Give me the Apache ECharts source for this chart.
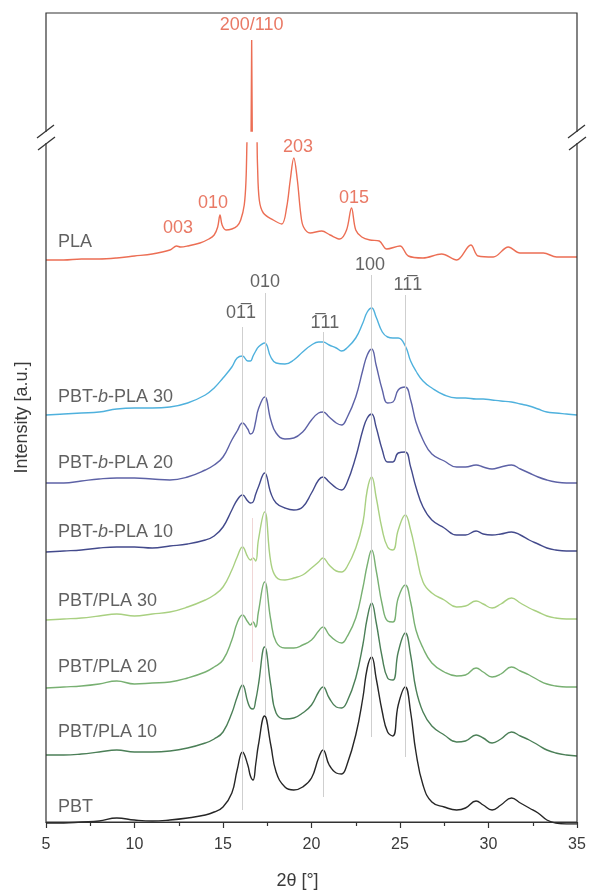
<!DOCTYPE html>
<html>
<head>
<meta charset="utf-8">
<script src="https://cdn.jsdelivr.net/npm/echarts@6/dist/echarts.min.js"></script>
<style>html,body{margin:0;padding:0;background:#fff;}#c{width:590px;height:895px;}</style>
</head>
<body>
<div id="c"></div>
<script>
// ---- data (2θ in degrees, intensities in a.u. above each trace's baseline) ----
const twoTheta = [5,6,7,8,9,10,11,12,13,14,14.5,15,15.5,15.8,16.1,16.4,16.55,16.7,16.85,17.0,17.35,17.7,18.0,18.5,19.0,19.5,20.0,20.4,20.65,21.0,21.4,21.7,22.0,22.5,22.9,23.15,23.4,23.65,24.0,24.3,24.6,24.9,25.3,25.6,25.9,26.3,26.8,27.5,28.2,28.7,29.3,29.7,30.2,30.7,31.3,31.8,32.3,32.8,33.3,33.8,34.4,35];
const pbt = [1,1,2,3,6,4,3,4,6,9,12,17,31,54,72,59,48,44,60,79,108,79,52,37,34,37,46,66,74,59,51,50,59,89,126,156,167,146,112,92,88,119,137,112,72,39,22,17,14,16,23,19,14,19,26,21,16,11,4,1,0,0];
const pbtPla10 = [1,1,2,4,6,4,4,5,8,13,17,24,43,59,71,54,48,47,56,71,109,71,43,37,38,43,51,64,69,58,49,48,54,78,111,138,153,134,98,78,76,104,123,101,67,44,30,21,14,15,21,18,13,17,24,20,16,11,6,3,1,0];
const pbtPla20 = [0,1,2,4,7,4,5,6,10,16,21,28,48,65,73,66,63,66,61,76,106,68,46,40,40,43,48,57,61,53,47,45,51,70,100,123,138,118,83,67,66,90,103,86,58,40,25,16,12,13,20,16,11,14,21,17,13,8,4,2,1,1];
const pbtPla30 = [0,1,2,4,6,4,6,8,13,20,25,33,50,63,73,63,60,62,59,80,108,58,43,40,42,45,52,58,62,55,49,48,53,72,97,130,143,123,90,73,70,90,105,90,67,38,27,20,13,14,19,16,12,16,22,17,12,8,4,2,1,1];
const pbtBPla10 = [0,1,2,4,5,5,4,6,8,12,16,25,42,52,57,51,49,50,58,65,79,59,49,44,42,45,59,72,75,70,64,62,69,95,122,134,138,125,102,90,90,99,100,85,65,45,32,24,17,17,21,18,17,18,20,17,12,8,4,2,1,1];
const pbtBPla20 = [1,1,3,5,6,6,5,4,7,14,19,27,44,53,61,55,50,52,63,75,87,64,51,45,46,52,64,71,72,67,61,59,66,87,114,129,135,119,94,81,82,94,97,84,62,44,30,23,17,17,19,17,15,17,19,15,11,7,4,2,1,1];
const pbtBPla30 = [1,2,3,4,7,8,8,9,13,21,28,38,49,58,60,55,55,60,65,69,73,59,53,52,56,64,71,74,74,71,68,65,68,78,93,104,108,99,84,79,78,78,70,55,45,35,28,21,18,18,17,17,16,15,14,12,10,7,4,3,2,1];

const plaTwoTheta = [5,6,7,8,9,10,11,12,12.38,12.6,13,13.7,14.2,14.5,14.7,14.83,14.95,15.17,15.5,15.8,16.0,16.2,16.3,16.4,16.56,16.62,16.68,16.88,16.95,17.05,17.28,17.84,18.32,18.6,18.8,19.0,19.2,19.4,19.55,19.92,20.58,21.05,21.6,21.98,22.26,22.5,22.84,23.3,23.83,24.25,25.0,25.47,26.3,27.35,28.2,29.0,29.42,30.27,31.12,31.78,33.1,33.85,35];
const pla = [0,0,1,1,2,4,6,10,14,13,14,17,21,25,33,45,35,30,31,34,40,55,80,140,160,327,160,140,95,60,47,40,36,53,80,102,80,45,33,27,29,25,21,30,52,30,23,20,19,11,14,4,2,6,0,15,4,3,13,7,7,3,3];

const seriesNames = ['PLA','PBT-b-PLA 30','PBT-b-PLA 20','PBT-b-PLA 10','PBT/PLA 30','PBT/PLA 20','PBT/PLA 10','PBT'];
const offsets = [564, 408, 340, 272, 204, 136, 68, 0];
const nameLabelRise = [18, 19, 21, 20, 19, 21, 24, 17];

const xTicks = [5,10,15,20,25,30,35];

// reflection marker lines (PBT) and their labels
const refX = [16.11, 17.37, 20.67, 23.40, 25.28];
const refTop = [497, 531, 492, 549, 529];
const refBottom = [14, 109, 27, 87, 67];
const pbtPeakText = ['0\u0031\u03051', '010', '1\u030511', '100', '1\u0031\u03051'];
const pbtPeakX = [16.02, 17.37, 20.76, 23.30, 25.45];
const pbtPeakY = [511, 542, 501, 559, 539];
// faint PLA 200/110 marker
const plaRefX = [16.68];
const plaRefTop = [306];
const plaRefBottom = [162];
// PLA reflection labels
const plaPeakText = ['003', '010', '200/110', '203', '015'];
const plaPeakX = [12.46, 14.44, 16.62, 19.24, 22.40];
const plaPeakY = [596, 621, 906, 677, 626];

// ---- layout / style ----
const colors = ['#ec6e54', '#4fb1dd', '#5d62a6', '#434a8c', '#a9d081', '#78b072', '#4b7f57', '#262626'];
const FONT = "'Liberation Sans', Arial, sans-serif";
const L = 46, R = 13, TOP = 13, BOT = 71;
const lowTop = 143, highH = 118;
const lowMax = 681, highMin = 800, highMax = 918;

const plaData = plaTwoTheta.map((x, i) => [x, offsets[0] + pla[i]]);
const stacks = [null, pbtBPla30, pbtBPla20, pbtBPla10, pbtPla30, pbtPla20, pbtPla10, pbt];

const series = [];
const refPairs = refX.map((x, i) => [{coord: [x, refTop[i]]}, {coord: [x, refBottom[i]]}]);
const plaRefPairs = plaRefX.map((x, i) => [{coord: [x, plaRefTop[i]]}, {coord: [x, plaRefBottom[i]]}]);
series.push({
  type: 'line', xAxisIndex: 1, yAxisIndex: 1, data: [], silent: true, z: 1,
  markLine: {silent: true, symbol: ['none', 'none'], label: {show: false},
    lineStyle: {color: '#cfcfcf', width: 1, type: 'solid'}, data: refPairs}
});
series.push({
  type: 'line', xAxisIndex: 1, yAxisIndex: 1, data: [], silent: true, z: 1,
  markLine: {silent: true, symbol: ['none', 'none'], label: {show: false},
    lineStyle: {color: '#f0d6d6', width: 1, type: 'solid'}, data: plaRefPairs}
});

series.push({type: 'line', name: seriesNames[0], xAxisIndex: 1, yAxisIndex: 1, data: plaData,
  showSymbol: false, smooth: 0.35, clip: true, z: 3,
  lineStyle: {color: colors[0], width: 1.4}});
series.push({type: 'line', name: seriesNames[0] + ' (upper)', xAxisIndex: 2, yAxisIndex: 2, data: plaData,
  showSymbol: false, smooth: false, clip: true, z: 3,
  lineStyle: {color: colors[0], width: 1.4}});
for (let k = 1; k < stacks.length; k++) {
  series.push({type: 'line', name: seriesNames[k], xAxisIndex: 1, yAxisIndex: 1,
    data: twoTheta.map((x, i) => [x, offsets[k] + stacks[k][i]]),
    showSymbol: false, smooth: 0.45, z: 3,
    lineStyle: {color: colors[k], width: 1.4}});
}

series.push({
  type: 'scatter', xAxisIndex: 1, yAxisIndex: 1, symbolSize: 0, silent: true, z: 5,
  data: seriesNames.map((n, k) => ({value: [5.68, offsets[k] + nameLabelRise[k]], name: n})),
  label: {show: true, position: 'right', distance: 0, color: '#3a3a3a', fontSize: 18, fontFamily: FONT,
    formatter: p => p.name.replace('-b-', '-{i|b}-'),
    rich: {i: {fontStyle: 'italic', fontSize: 18, color: '#3a3a3a', fontFamily: FONT}}}
});
series.push({
  type: 'scatter', xAxisIndex: 1, yAxisIndex: 1, symbolSize: 0, silent: true, z: 5,
  data: pbtPeakText.map((t, i) => ({value: [pbtPeakX[i], pbtPeakY[i]], name: t})),
  label: {show: true, position: 'inside', color: '#3c3c3c', fontSize: 18, fontFamily: FONT,
    formatter: p => p.name}
});
const plaLow = [], plaHigh = [];
plaPeakText.forEach((t, i) => {
  const d = {value: [plaPeakX[i], plaPeakY[i]], name: t};
  (plaPeakY[i] >= highMin ? plaHigh : plaLow).push(d);
});
const plaLabel = {show: true, position: 'inside', color: '#e3583f', fontSize: 18, fontFamily: FONT, formatter: p => p.name};
series.push({type: 'scatter', xAxisIndex: 1, yAxisIndex: 1, symbolSize: 0, silent: true, z: 5, clip: false, data: plaLow, label: plaLabel});
series.push({type: 'scatter', xAxisIndex: 2, yAxisIndex: 2, symbolSize: 0, silent: true, z: 5, clip: false, data: plaHigh, label: plaLabel});

function breakMark(cx) {
  return [
    {type: 'rect', z: 100, shape: {x: cx - 4, y: 132, width: 8, height: 11}, style: {fill: '#fff'}},
    {type: 'line', z: 101, shape: {x1: cx - 9, y1: 138, x2: cx + 8, y2: 125}, style: {stroke: '#333', lineWidth: 1.3}},
    {type: 'line', z: 101, shape: {x1: cx - 8, y1: 150, x2: cx + 9, y2: 137}, style: {stroke: '#333', lineWidth: 1.3}}
  ];
}

const option = {
  animation: false,
  backgroundColor: '#fff',
  textStyle: {fontFamily: FONT},
  grid: [
    {left: L, right: R, top: TOP, bottom: BOT, show: true, borderColor: '#333', borderWidth: 1.2, backgroundColor: 'transparent', z: 10},
    {left: L, right: R, top: lowTop, bottom: BOT},
    {left: L, right: R, top: TOP, height: highH}
  ],
  xAxis: [
    {gridIndex: 0, type: 'value', min: xTicks[0], max: xTicks[xTicks.length - 1], interval: 5,
      axisLine: {show: true, lineStyle: {color: '#333', width: 1.2}},
      axisTick: {show: true, inside: false, length: 6, lineStyle: {color: '#333', width: 1.2}},
      minorTick: {show: true, splitNumber: 2, length: 4, lineStyle: {color: '#333', width: 1.2}},
      splitLine: {show: false},
      axisLabel: {color: '#3a3a3a', fontSize: 16, margin: 15, fontFamily: FONT},
      name: '2θ [°]', nameLocation: 'middle', nameGap: 50,
      nameTextStyle: {color: '#3a3a3a', fontSize: 18, fontFamily: FONT, padding: [0, 28, 0, 0]}},
    {gridIndex: 1, type: 'value', min: 5, max: 35, show: false, splitLine: {show: false}},
    {gridIndex: 2, type: 'value', min: 5, max: 35, show: false, splitLine: {show: false}}
  ],
  yAxis: [
    {gridIndex: 0, type: 'value', min: 0, max: 1, axisLine: {show: false}, axisTick: {show: false},
      axisLabel: {show: false}, splitLine: {show: false},
      name: 'Intensity [a.u.]', nameLocation: 'middle', nameGap: 15,
      nameTextStyle: {color: '#3a3a3a', fontSize: 18, fontFamily: FONT}},
    {gridIndex: 1, type: 'value', min: 0, max: lowMax, show: false, splitLine: {show: false}},
    {gridIndex: 2, type: 'value', min: highMin, max: highMax, show: false, splitLine: {show: false}}
  ],
  series: series,
  graphic: {elements: breakMark(L).concat(breakMark(590 - R))}
};

const chart = echarts.init(document.getElementById('c'), null, {renderer: 'canvas'});
chart.setOption(option);
</script>
</body>
</html>
